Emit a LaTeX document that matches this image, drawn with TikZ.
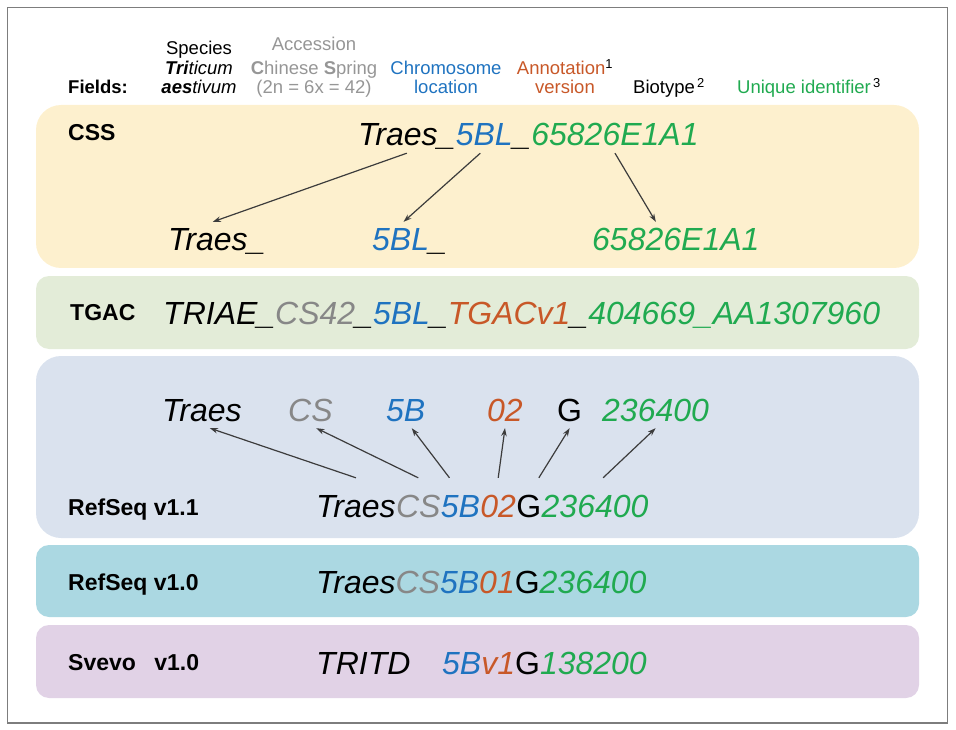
\documentclass[tikz,border=0pt]{standalone}
\usepackage{fontspec}
\setmainfont{Liberation Sans}
\usepackage{tikz}
\usetikzlibrary{arrows.meta}
\usepackage{xcolor}
\definecolor{chromblue}{RGB}{31,115,192}
\definecolor{annotorange}{RGB}{200,88,40}
\definecolor{uidgreen}{RGB}{32,170,80}
\definecolor{accgray}{RGB}{135,135,135}
\definecolor{headgray}{RGB}{150,150,150}
\definecolor{framegray}{RGB}{125,125,125}
\definecolor{arrowgray}{RGB}{60,60,60}
\definecolor{cssbg}{RGB}{253,240,206}
\definecolor{tgacbg}{RGB}{227,236,216}
\definecolor{rsnewbg}{RGB}{218,226,238}
\definecolor{rsoldbg}{RGB}{171,216,226}
\definecolor{svevobg}{RGB}{225,210,230}
\tikzset{%
    field/.style={font=\fontsize{18.5}{19.5}\selectfont, align=center, inner sep=0pt, anchor=base},
    dbname/.style={font=\fontsize{23}{26}\selectfont\bfseries, anchor=base west, inner sep=0pt},
    geneid/.style={font=\fontsize{32}{36}\selectfont\itshape, anchor=base west, inner sep=0pt,
        text height=29pt, text depth=7pt},
    bio/.style={geneid, font=\fontsize{32}{36}\selectfont},
    pointer/.style={->, >={Stealth[length=8pt,width=5.5pt]}, line width=1.2pt, color=arrowgray}
}

\begin{document}
\begin{tikzpicture}[x=1pt,y=-1pt]
    \useasboundingbox (0,0) rectangle (956,730);
    \draw[framegray, line width=1.5pt] (7.5,7.5) rectangle (947.5,723);
%-----------------------------------------------
    \fill[cssbg, rounded corners=25pt] (36,105) rectangle (919,268);
    \fill[tgacbg, rounded corners=13pt] (36,276) rectangle (919,349);
    \fill[rsnewbg, rounded corners=25pt] (36,356) rectangle (919,538);
    \fill[rsoldbg, rounded corners=13pt] (36,545) rectangle (919,617);
    \fill[svevobg, rounded corners=13pt] (36,625) rectangle (919,698);
%-----------------------------------------------
    \node[field, anchor=base west] (fields) at (68,94) {\bfseries Fields:};
    \node[field] (species) at (199,94) {Species\\\textbf{\textit{Tri}}\textit{ticum}\\\textbf{\textit{aes}}\textit{tivum}};
    \node[field, text=headgray] (accession) at (314,94) {Accession\\[4pt]\textbf{C}hinese \textbf{S}pring\\(2n = 6x = 42)};
    \node[field, text=chromblue] (chrom) at (446,94) {Chromosome\\location};
    \node[field, text=annotorange] (annot) at (565,94) {Annotation\textcolor{black}{\textsuperscript{1}}\\version};
    \node[field, anchor=base west] (biotype) at (633,94) {Biotype\textsuperscript{\,2}};
    \node[field, anchor=base west, text=uidgreen] (uid) at (737,94) {Unique identifier\textcolor{black}{\textsuperscript{\,3}}};
%-----------------------------------------------
    \node[dbname] (css) at (68,141) {CSS};
    \node[geneid] (cssTraes) at (358,146) {Traes\_};
    \node[geneid, text=chromblue] (cssChr) at (cssTraes.base east) {5BL};
    \node[geneid] (cssSep) at (cssChr.base east) {\_};
    \node[geneid, text=uidgreen] (cssUid) at (cssSep.base east) {65826E1A1};
    \node[geneid] (cssTraesB) at (168,251) {Traes\_};
    \node[geneid, text=chromblue] (cssChrB) at (372,251) {5BL\textcolor{black}{\_}};
    \node[geneid, text=uidgreen] (cssUidB) at (592,251) {65826E1A1};
    \draw[pointer] (cssTraes.south) -- ([xshift=-4pt]cssTraesB.north);
    \draw[pointer] ([xshift=-4pt]cssChr.south) -- ([xshift=-6pt]cssChrB.north);
    \draw[pointer] (cssUid.south) -- ([xshift=-20pt]cssUidB.north);
%-----------------------------------------------
    \node[dbname] (tgac) at (70,320) {TGAC};
    \node[geneid] (tgacId) at (163,324) {TRIAE\_\textcolor{accgray}{CS42}\_\textcolor{chromblue}{5BL}\_\textcolor{annotorange}{TGACv1}\_\textcolor{uidgreen}{404669\_AA1307960}};
%-----------------------------------------------
    \node[dbname] (rsNew) at (68,515) {RefSeq v1.1};
    \node[geneid] (fTraes) at (162,421) {Traes};
    \node[geneid, text=accgray] (fCS) at (288,421) {CS};
    \node[geneid, text=chromblue] (fChr) at (386,421) {5B};
    \node[geneid, text=annotorange] (fAnn) at (487,421) {02};
    \node[bio] (fBio) at (557,421) {G};
    \node[geneid, text=uidgreen] (fUid) at (602,421) {236400};
    \node[geneid] (rTraes) at (316,517) {Traes};
    \node[geneid, text=accgray] (rCS) at (rTraes.base east) {CS};
    \node[geneid, text=chromblue] (rChr) at (rCS.base east) {5B};
    \node[geneid, text=annotorange] (rAnn) at (rChr.base east) {02};
    \node[bio] (rBio) at (rAnn.base east) {G};
    \node[geneid, text=uidgreen] (rUid) at (rBio.base east) {236400};
    \draw[pointer] ([yshift=10pt]rTraes.north) -- ([xshift=8pt]fTraes.south);
    \draw[pointer] ([yshift=10pt]rCS.north) -- ([xshift=6pt]fCS.south);
    \draw[pointer] ([xshift=-11pt,yshift=10pt]rChr.north) -- ([xshift=6pt]fChr.south);
    \draw[pointer] ([yshift=10pt]rAnn.north) -- (fAnn.south);
    \draw[pointer] ([xshift=10pt,yshift=10pt]rBio.north) -- (fBio.south);
    \draw[pointer] ([xshift=8pt,yshift=10pt]rUid.north) -- (fUid.south);
%-----------------------------------------------
    \node[dbname] (rsOld) at (68,590) {RefSeq v1.0};
    \node[geneid] (rsOldId) at (316,593) {Traes\textcolor{accgray}{CS}\textcolor{chromblue}{5B}\textcolor{annotorange}{01}{\upshape G}\textcolor{uidgreen}{236400}};
%-----------------------------------------------
    \node[dbname] (svevo) at (68,670) {Svevo\hspace{0.8em}v1.0};
    \node[geneid] (svevoSp) at (316,674) {TRITD};
    \node[geneid, text=chromblue] (svevoId) at (442,674) {5B\textcolor{annotorange}{v1}\textcolor{black}{\upshape G}\textcolor{uidgreen}{138200}};
\end{tikzpicture}
\end{document}
